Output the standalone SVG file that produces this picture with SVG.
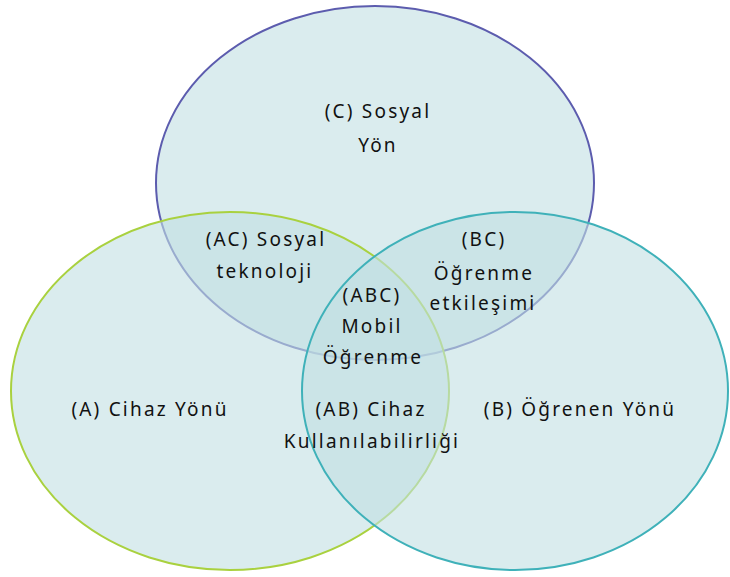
<svg xmlns="http://www.w3.org/2000/svg" width="730" height="577" viewBox="0 0 730 577">
  <style>
    .set { fill: #c1dfe3; fill-opacity: 0.6; stroke-width: 2; }
    .label { font-family: "Noto Sans", "Open Sans", "DejaVu Sans", sans-serif; font-size: 19px; letter-spacing: 2.2px; fill: #111111; text-anchor: middle; }
  </style>
  <rect width="730" height="577" fill="#ffffff"/>

  <!-- the three sets -->
  <g id="set-c">
    <ellipse class="set" cx="375" cy="183" rx="219" ry="177" stroke="#5c5cae"/>
  </g>
  <g id="set-a">
    <ellipse class="set" cx="230" cy="391" rx="219" ry="179" stroke="#a9d13f"/>
  </g>
  <g id="set-b">
    <ellipse class="set" cx="515" cy="391" rx="213" ry="179" stroke="#3fb1b9"/>
  </g>

  <!-- region labels -->
  <g id="label-c">
    <text class="label" x="378" y="118">(C) Sosyal</text>
    <text class="label" x="378" y="152">Yön</text>
  </g>
  <g id="label-ac">
    <text class="label" x="266" y="246">(AC) Sosyal</text>
    <text class="label" x="265" y="278">teknoloji</text>
  </g>
  <g id="label-bc">
    <text class="label" x="484" y="246">(BC)</text>
    <text class="label" x="484" y="280">Öğrenme</text>
    <text class="label" x="483" y="310">etkileşimi</text>
  </g>
  <g id="label-abc">
    <text class="label" x="372" y="302">(ABC)</text>
    <text class="label" x="372" y="333">Mobil</text>
    <text class="label" x="373" y="364">Öğrenme</text>
  </g>
  <g id="label-a">
    <text class="label" x="150" y="416">(A) Cihaz Yönü</text>
  </g>
  <g id="label-ab">
    <text class="label" x="371" y="416">(AB) Cihaz</text>
    <text class="label" x="372" y="448">Kullanılabilirliği</text>
  </g>
  <g id="label-b">
    <text class="label" x="580" y="416">(B) Öğrenen Yönü</text>
  </g>
</svg>
